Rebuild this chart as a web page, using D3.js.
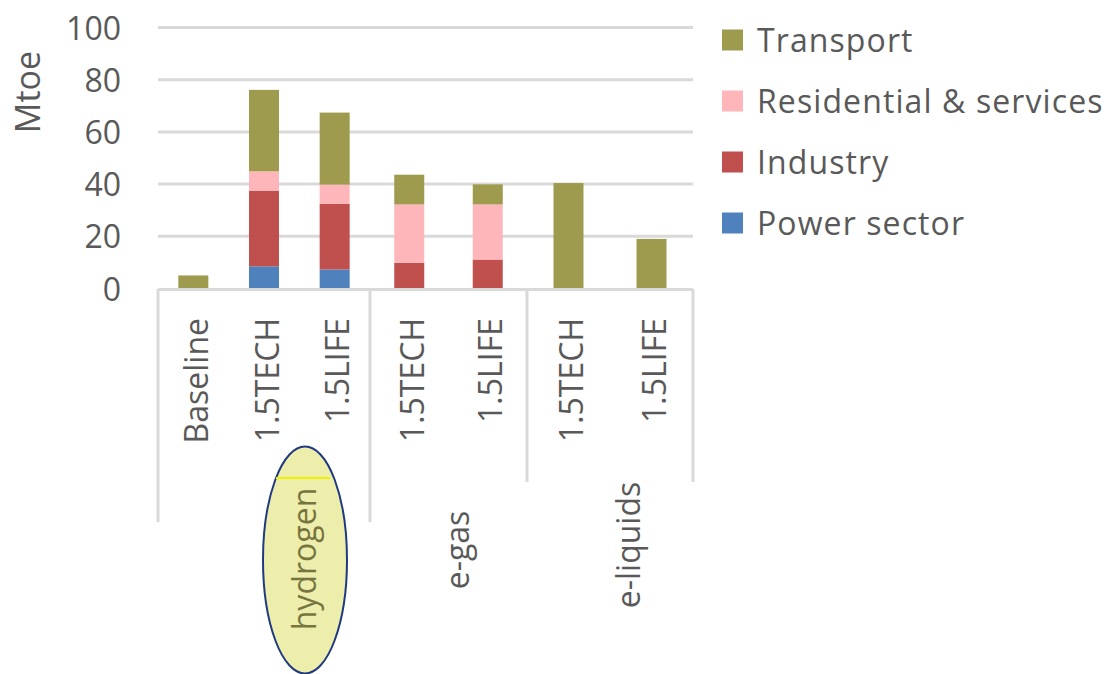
<!DOCTYPE html>
<html><head><meta charset="utf-8">
<script src="https://cdn.jsdelivr.net/npm/d3@7"></script>
<style>html,body{margin:0;padding:0;background:#fff;}svg{display:block;}</style>
</head><body>
<svg id="chart" width="1118" height="674"></svg>
<script>
// ---- data ----
const categories = ["Baseline","1.5TECH","1.5LIFE","1.5TECH","1.5LIFE","1.5TECH","1.5LIFE"];
const groupOf    = ["hydrogen","hydrogen","hydrogen","e-gas","e-gas","e-liquids","e-liquids"];
const groupNames = ["hydrogen","e-gas","e-liquids"];
const seriesNames = ["Power sector","Industry","Residential & services","Transport"];
const powerSector = [0, 8.5, 7.3, 0, 0, 0, 0];
const industry    = [0, 29.0, 25.1, 9.8, 11.1, 0, 0];
const residential = [0, 7.4, 7.4, 22.4, 21.1, 0, 0];
const transport   = [5.0, 31.2, 27.6, 11.4, 7.7, 40.4, 19.0];
const yTicks = [0, 20, 40, 60, 80, 100];
const yLabel = "Mtoe";

const colors = {"Power sector":"#4f81bd","Industry":"#c0504d","Residential & services":"#ffb6ba","Transport":"#9f9b4e"};
const font = "'Open Sans', Lato, sans-serif";
const textCol = "#595959";
const gridCol = "#d9d9d9";

const svg = d3.select("#chart");

const rows = categories.map((c,i)=>({i, cat:c, group:groupOf[i],
  "Power sector":powerSector[i], "Industry":industry[i],
  "Residential & services":residential[i], "Transport":transport[i]}));
const stack = d3.stack().keys(seriesNames)(rows);

// scales
const y = d3.scaleLinear().domain([0,100]).range([288.5, 27.5]);
const groupEdgesIdx = [-0.5, 2.5, 4.5, 6.5];
const x = d3.scaleLinear().domain(groupEdgesIdx).range([158, 370, 527, 693]);
const barW = 30;
const plotL = 158, plotR = 693;

// gridlines
svg.append("g").selectAll("line").data(yTicks.filter(t=>t>0)).join("line")
  .attr("x1", plotL).attr("x2", plotR)
  .attr("y1", d=>y(d)).attr("y2", d=>y(d))
  .attr("stroke", gridCol).attr("stroke-width", 3);

// y axis labels
const yAxis = d3.axisLeft(y).tickValues(yTicks).tickSize(0).tickPadding(0);
const ya = svg.append("g").attr("transform","translate(121,0)").call(yAxis);
ya.select(".domain").remove();
ya.selectAll("text").attr("font-family", font).attr("font-size", 32)
  .attr("fill", textCol).attr("dy","0.36em");

svg.append("text").attr("transform", `translate(40,92) rotate(-90)`)
  .attr("text-anchor","middle").attr("font-family", font).attr("font-size", 34)
  .attr("fill", textCol).text(yLabel);

// bars
svg.append("g").selectAll("g").data(stack).join("g")
  .attr("fill", d=>colors[d.key])
  .selectAll("rect").data(d=>d).join("rect")
  .attr("x", d=>x(d.data.i)-barW/2)
  .attr("width", barW)
  .attr("y", d=>y(d[1]))
  .attr("height", d=>Math.max(0, y(d[0])-y(d[1])));

// category axis line
svg.append("line").attr("x1", plotL).attr("x2", plotR)
  .attr("y1", 289.5).attr("y2", 289.5).attr("stroke", gridCol).attr("stroke-width", 3);

// separator lines
const seps = groupEdgesIdx.map((e,k)=>({x:x(e), y2: k<2 ? 522 : 482}));
svg.append("g").selectAll("line").data(seps).join("line")
  .attr("x1", d=>d.x).attr("x2", d=>d.x).attr("y1", 289).attr("y2", d=>d.y2)
  .attr("stroke", gridCol).attr("stroke-width", 3);

// category labels
svg.append("g").selectAll("text").data(categories).join("text")
  .attr("transform", (d,i)=>`translate(${x(i)+2},318) rotate(-90)`)
  .attr("text-anchor","end").attr("dominant-baseline","central")
  .attr("font-family", font).attr("font-size", 32).attr("fill", textCol)
  .text(d=>d);

// ellipse highlight around hydrogen
const groupLabelPos = {"hydrogen":[303,559], "e-gas":[456,550], "e-liquids":[627,545]};
svg.append("ellipse").attr("cx",305).attr("cy",560).attr("rx",42).attr("ry",113.5)
  .attr("fill","#eeeeac").attr("stroke","#1f3a80").attr("stroke-width",2);
svg.append("line").attr("x1",276).attr("x2",330).attr("y1",478).attr("y2",478)
  .attr("stroke","#f0f000").attr("stroke-width",2);

// group labels
svg.append("g").selectAll("text").data(groupNames).join("text")
  .attr("transform", d=>`translate(${groupLabelPos[d][0]},${groupLabelPos[d][1]}) rotate(-90)`)
  .attr("text-anchor","middle").attr("dominant-baseline","central")
  .attr("font-family", font).attr("font-size", 32)
  .attr("fill", d=> d==="hydrogen" ? "#77753f" : textCol)
  .text(d=>d);

// legend
const legendOrder = ["Transport","Residential & services","Industry","Power sector"];
const lg = svg.append("g").selectAll("g").data(legendOrder).join("g")
  .attr("transform", (d,i)=>`translate(722,${40 + i*61})`);
lg.append("rect").attr("x",0).attr("y",-10.5).attr("width",21).attr("height",21)
  .attr("fill", d=>colors[d]);
lg.append("text").attr("x",35).attr("dy","0.36em")
  .attr("font-family", font).attr("font-size", 32).attr("letter-spacing", 1.1)
  .attr("fill", textCol)
  .text(d=>d);
</script>
</body></html>
